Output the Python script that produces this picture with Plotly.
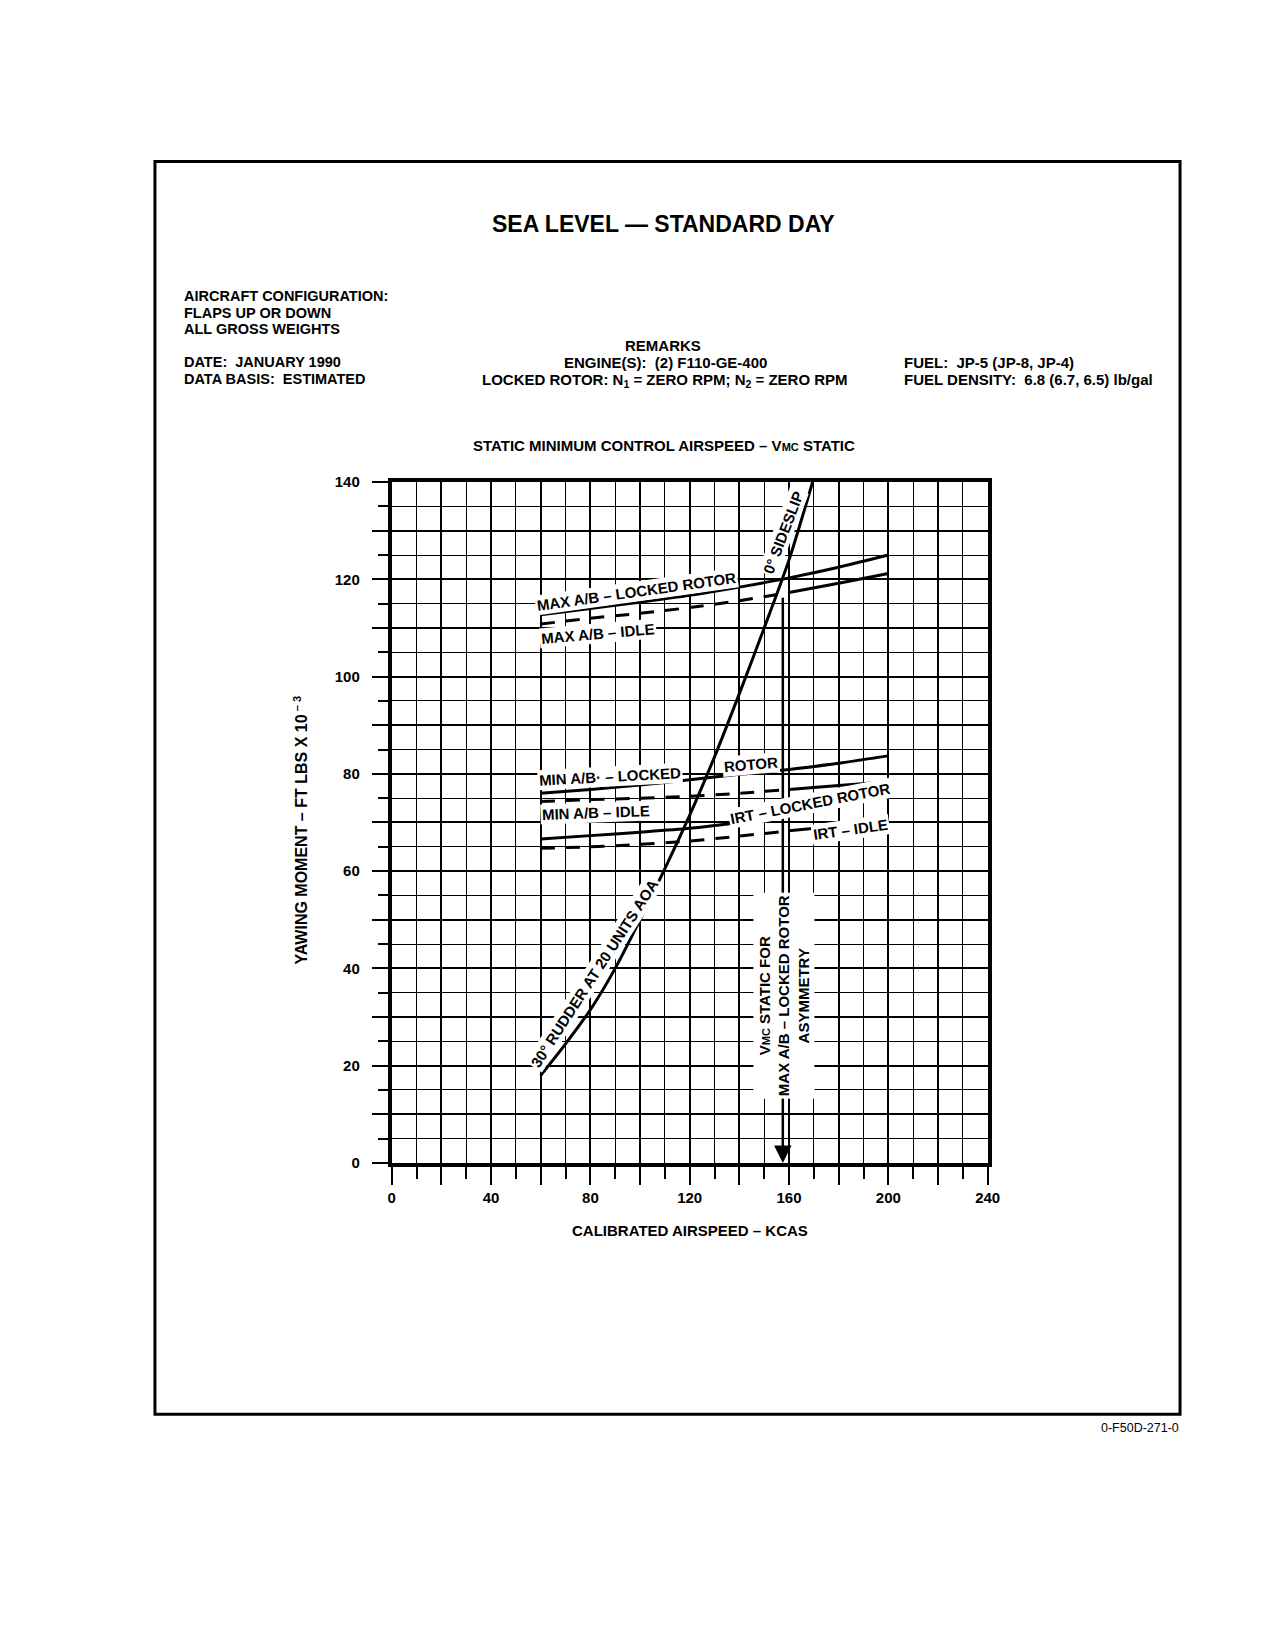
# Статическая минимальная скорость управления - VMC STATIC
import plotly.graph_objects as go

# Размер страницы
W, H = 1270, 1643

# Скорость (KCAS) для семейства кривых момента
kcas = [60, 80, 100, 120, 140, 160, 180, 200]
# Рыскающий момент, ft-lb x 10^-3
max_ab_locked = [112.7, 114.0, 115.3, 116.7, 118.4, 120.3, 122.5, 125.0]
max_ab_idle = [110.8, 112.0, 113.0, 114.2, 115.6, 117.3, 119.2, 121.2]
min_ab_locked = [76.0, 76.8, 77.7, 78.8, 79.9, 80.9, 82.2, 83.7]
min_ab_idle = [74.3, 74.7, 75.0, 75.4, 76.0, 76.8, 77.6, 78.4]
irt_locked = [66.6, 67.3, 68.0, 68.8, 70.0, 71.5, 73.4, 75.6]
irt_idle = [64.7, 65.0, 65.5, 66.2, 67.2, 68.3, 69.3, 70.3]
# Скорость, после которой линии IDLE сплошные
idle_solid_from = 160

# Кривая 30° руля при 20 ед. AOA / 0° скольжения
rudder_kcas = [60, 70, 80, 90, 100, 110, 120, 130, 140, 150, 160, 169.5]
rudder_moment = [18, 24.5, 31.5, 40, 50, 60.5, 71.5, 83.5, 96.5, 110, 124, 140]

# Vmc static для MAX A/B - locked rotor
vmc_kcas = 157.5
vmc_top = 116.5

# Подписи осей
x_labels = [0, 40, 80, 120, 160, 200, 240]
y_labels = [0, 20, 40, 60, 80, 100, 120, 140]
x_grid = list(range(0, 241, 20))
y_grid = list(range(0, 141, 10))

FONT = "Liberation Sans, Arial, sans-serif"


def px(x):
    # пиксели -> доля ширины
    return x / W


def py(y):
    # пиксели -> доля высоты (сверху вниз)
    return 1 - y / H


def curve(x, y, dash="solid"):
    return go.Scatter(
        x=x, y=y, mode="lines", hoverinfo="skip", showlegend=False,
        line=dict(color="black", width=3, dash=dash, shape="spline", smoothing=0.8),
    )


fig = go.Figure()

# Сплошные линии locked rotor
for ys in (max_ab_locked, min_ab_locked, irt_locked):
    fig.add_trace(curve(kcas, ys))

# Линии idle: пунктир до точки Vmc, дальше сплошная
k = kcas.index(idle_solid_from)
for ys in (max_ab_idle, min_ab_idle, irt_idle):
    fig.add_trace(curve(kcas[:k + 1], ys[:k + 1], dash="14px,11px"))
    fig.add_trace(curve(kcas[k:], ys[k:]))

# Кривая руля
fig.add_trace(curve(rudder_kcas, rudder_moment))

# Подписи у кривых: текст, x, y, угол
curve_labels = [
    ("MAX A/B – LOCKED ROTOR", 98.5, 117.4, -8),
    ("MAX A/B – IDLE", 83.0, 108.8, -5),
    ("0° SIDESLIP", 157.7, 129.6, -69),
    ("30° RUDDER AT 20 UNITS AOA", 81.5, 39.0, -57),
    ("MIN A/B· – LOCKED", 87.8, 79.5, -3),
    ("ROTOR", 144.5, 81.9, -5),
    ("MIN A/B – IDLE", 82.3, 72.0, -2),
    ("IRT – LOCKED ROTOR", 168.3, 74.0, -11),
    ("IRT – IDLE", 184.6, 68.6, -8),
]

annotations = [
    # стрелка Vmc
    dict(x=vmc_kcas, y=0, ax=vmc_kcas, ay=vmc_top, xref="x", yref="y",
         axref="x", ayref="y", text="", showarrow=True, arrowhead=2,
         arrowsize=1.4, arrowwidth=2.5, arrowcolor="black", standoff=0),
]

for text, x, y, ang in curve_labels:
    annotations.append(dict(
        x=x, y=y, xref="x", yref="y", text=text, textangle=ang, showarrow=False,
        bgcolor="white", borderpad=1,
        font=dict(family=FONT, size=15, color="black", weight=700),
    ))

annotations.append(dict(
    x=158, y=34.3, xref="x", yref="y", textangle=-90, showarrow=False,
    text="V<span style='font-size:11px'>MC</span> STATIC FOR<br>"
         "MAX A/B – LOCKED ROTOR<br>ASYMMETRY",
    bgcolor="white", borderpad=2,
    font=dict(family=FONT, size=15, color="black", weight=700),
))

# Тексты страницы: текст, x, y (пиксели), якорь, размер
page_text = [
    ("SEA LEVEL — STANDARD DAY", 668, 217, "center", 23),
    ("AIRCRAFT CONFIGURATION:", 180, 290, "left", 14.5),
    ("FLAPS UP OR DOWN", 180, 307, "left", 14.5),
    ("ALL GROSS WEIGHTS", 180, 323, "left", 14.5),
    ("DATE:  JANUARY 1990", 180, 357, "left", 14.5),
    ("DATA BASIS:  ESTIMATED", 180, 374, "left", 14.5),
    ("REMARKS", 668, 340, "center", 15),
    ("ENGINE(S):  (2) F110-GE-400", 670, 357, "center", 15),
    ("LOCKED ROTOR: N<sub>1</sub> = ZERO RPM; N<sub>2</sub> = ZERO RPM", 670, 375, "center", 15),
    ("FUEL:  JP-5 (JP-8, JP-4)", 910, 357, "left", 15),
    ("FUEL DENSITY:  6.8 (6.7, 6.5) lb/gal", 910, 374, "left", 15),
    ("STATIC MINIMUM CONTROL AIRSPEED – V<span style='font-size:11px'>MC</span> STATIC",
     669, 441, "center", 15),
    ("CALIBRATED AIRSPEED – KCAS", 695, 1234, "center", 15),
]
for text, x, y, anchor, size in page_text:
    annotations.append(dict(
        x=px(x), y=py(y), xref="paper", yref="paper", text=text, showarrow=False,
        xanchor=anchor, yanchor="middle",
        font=dict(family=FONT, size=size, color="black", weight=700),
    ))

# Подпись оси Y
annotations.append(dict(
    x=px(289), y=py(830), xref="paper", yref="paper", textangle=-90, showarrow=False,
    text="YAWING MOMENT – FT LBS X 10<sup> – 3</sup>",
    font=dict(family=FONT, size=16, color="black", weight=700),
))

# Номер рисунка
annotations.append(dict(
    x=px(1193), y=py(1434), xref="paper", yref="paper", text="0-F50D-271-0",
    showarrow=False, xanchor="right", yanchor="middle",
    font=dict(family=FONT, size=12.5, color="black", weight=400),
))

tick_font = dict(family=FONT, size=15, color="black", weight=700)

# Ось X: сетка и подписи
axis_x = dict(
    domain=[px(393), px(997)], range=[0, 240], tickmode="array", tickvals=x_grid,
    ticktext=[str(v) if v in x_labels else "" for v in x_grid],
    ticks="outside", ticklen=18, tickwidth=2, tickcolor="black",
    ticklabelstandoff=0, tickfont=tick_font,
    showgrid=True, gridcolor="black", gridwidth=2.2, zeroline=False,
    showline=True, linewidth=4, linecolor="black", mirror=True, fixedrange=True,
    minor=dict(tickmode="linear", tick0=0, dtick=10, ticks="outside", ticklen=12,
               tickwidth=2, tickcolor="black", showgrid=True, gridcolor="black",
               gridwidth=1.1),
)
# Ось Y: сетка и подписи
axis_y = dict(
    domain=[py(1166), py(478)], range=[0, 140], tickmode="array", tickvals=y_grid,
    ticktext=[str(v) if v in y_labels else "" for v in y_grid],
    ticks="outside", ticklen=16, tickwidth=2, tickcolor="black",
    ticklabelstandoff=9, tickfont=tick_font,
    showgrid=True, gridcolor="black", gridwidth=2.2, zeroline=False,
    showline=True, linewidth=4, linecolor="black", mirror=True, fixedrange=True,
    minor=dict(tickmode="linear", tick0=0, dtick=5, ticks="outside", ticklen=10,
               tickwidth=2, tickcolor="black", showgrid=True, gridcolor="black",
               gridwidth=1.1),
)
# Длинные риски у подписанных значений
long_x = dict(
    overlaying="x", anchor="y", side="bottom", range=[0, 240], tickmode="array",
    tickvals=x_labels, ticks="outside", ticklen=23, tickwidth=2, tickcolor="black",
    showticklabels=False, showgrid=False, zeroline=False, showline=False,
    fixedrange=True,
)
long_y = dict(
    overlaying="y", anchor="x", side="left", range=[0, 140], tickmode="array",
    tickvals=y_labels, ticks="outside", ticklen=23, tickwidth=2, tickcolor="black",
    showticklabels=False, showgrid=False, zeroline=False, showline=False,
    fixedrange=True,
)

fig.update_layout(
    width=W, height=H, margin=dict(l=0, r=0, t=0, b=0),
    paper_bgcolor="white", plot_bgcolor="white", showlegend=False,
    font=dict(family=FONT, size=15, color="black"),
    xaxis=axis_x, yaxis=axis_y, xaxis2=long_x, yaxis2=long_y,
    annotations=annotations,
    shapes=[dict(type="rect", xref="paper", yref="paper",
                 x0=px(153), x1=px(1192), y0=py(1420), y1=py(154),
                 line=dict(color="black", width=3))],
)

fig.write_html("out.html", config={"displayModeBar": False},
               post_script="document.body.style.margin='0';")
